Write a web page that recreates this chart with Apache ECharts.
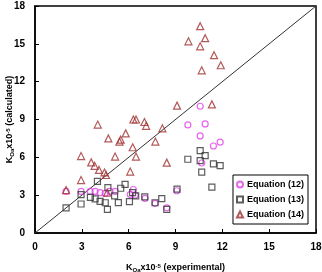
<!DOCTYPE html>
<html>
<head>
<meta charset="utf-8">
<script src="https://cdn.jsdelivr.net/npm/echarts@6/dist/echarts.min.js"></script>
<style>
    html, body { margin: 0; padding: 0; background: #fff; }
    #ChartDIV { width: 322px; height: 272px; }
</style>
</head>
<body>
<div id="ChartDIV"></div>
<script>
// Equation (12) - circles
var eq12 = [
    [1.99, 3.3], [2.95, 3.3], [3.53, 3.3], [3.85, 3.3], [4.17, 3.2], [4.5, 3.15],
    [4.8, 3.3], [5.13, 3.3], [6.3, 3.45], [6.1, 3.05], [6.41, 3.0], [7.05, 2.75],
    [7.69, 2.35], [8.44, 2.0], [9.08, 3.35], [10.68, 5.55], [9.79, 8.57], [10.9, 8.65],
    [10.58, 10.05], [10.58, 7.7], [11.43, 6.9], [11.86, 7.2]
];
// Equation (13) - squares
var eq13 = [
    [1.99, 2.0], [2.95, 3.05], [2.95, 2.3], [4.0, 4.1], [3.55, 2.83], [3.85, 2.7],
    [4.17, 2.5], [4.5, 2.4], [4.64, 1.87], [4.67, 3.6], [5.1, 2.94], [5.34, 2.41],
    [5.49, 3.55], [5.77, 3.85], [6.05, 2.49], [6.25, 3.2], [6.45, 2.94], [7.03, 2.87],
    [7.69, 2.4], [8.12, 2.72], [8.44, 1.88], [9.1, 3.48], [9.79, 5.85], [10.58, 6.53],
    [10.9, 6.13], [10.58, 5.74], [11.43, 5.48], [11.86, 5.34], [10.68, 4.82], [11.33, 3.63]
];
// Equation (14) - triangles
var eq14 = [
    [1.99, 3.4], [2.95, 4.2], [2.95, 6.1], [3.6, 5.6], [3.82, 5.33], [4.1, 5.0],
    [4.45, 4.8], [4.55, 4.6], [4.62, 3.2], [4.02, 8.6], [4.7, 7.5], [5.13, 6.06],
    [5.41, 7.25], [5.49, 7.4], [5.81, 7.9], [6.3, 9.0], [6.47, 9.0], [6.26, 6.8],
    [6.47, 6.06], [6.1, 4.87], [7.01, 8.8], [7.12, 8.5], [7.71, 7.25], [8.16, 8.3],
    [8.44, 5.58], [9.1, 10.1], [9.83, 15.2], [10.58, 16.4], [10.9, 15.45], [10.58, 14.8],
    [11.47, 14.1], [11.9, 13.3], [10.68, 12.9], [11.33, 10.2]
];
var parityLine = [[0, 0], [18, 18]];
var legendNames = ['Equation (12)', 'Equation (13)', 'Equation (14)'];
var axisMin = 0, axisMax = 18, axisStep = 3;

var myChart = echarts.init(document.getElementById('ChartDIV'));

var labelFont = { color: '#000', fontWeight: 'bold', fontSize: 10, fontFamily: 'Liberation Sans, Arial' };
var nameRich = {
    b: { fontWeight: 'bold', fontSize: 9, fontFamily: 'Liberation Sans, Arial', color: '#000' },
    sub: { fontWeight: 'bold', fontSize: 6, fontFamily: 'Liberation Sans, Arial', color: '#000', verticalAlign: 'bottom', padding: [4, 0, 0, 0] },
    sup: { fontWeight: 'bold', fontSize: 6, fontFamily: 'Liberation Sans, Arial', color: '#000', verticalAlign: 'top', padding: [0, 0, 4, 0] }
};

var option = {
    animation: false,
    grid: {
        left: 35, top: 6, right: 6, bottom: 39,
        containLabel: false,
        outerBoundsMode: 'none',
        show: true, borderColor: '#000', borderWidth: 1.5, backgroundColor: '#fff'
    },
    legend: {
        data: legendNames,
        orient: 'vertical',
        right: 14,
        bottom: 48,
        backgroundColor: '#fff',
        borderColor: '#000',
        borderWidth: 1,
        padding: [5, 4, 5, 3],
        itemGap: 6,
        itemWidth: 6,
        itemHeight: 6,
        textStyle: { color: '#000', fontWeight: 'bold', fontSize: 9, fontFamily: 'Liberation Sans, Arial', padding: [0, 0, 0, -1] }
    },
    xAxis: {
        type: 'value',
        min: axisMin, max: axisMax, interval: axisStep,
        axisLine: { show: true, lineStyle: { color: '#000', width: 1.5 } },
        axisTick: { show: true, inside: true, length: 4, lineStyle: { color: '#000' } },
        splitLine: { show: false },
        axisLabel: Object.assign({ margin: 9 }, labelFont),
        name: '{b|K}{sub|Oa}{b|x10}{sup|-5}{b| (experimental)}',
        nameLocation: 'middle',
        nameGap: 30,
        nameMoveOverlap: false,
        nameTextStyle: { rich: nameRich }
    },
    yAxis: {
        type: 'value',
        min: axisMin, max: axisMax, interval: axisStep,
        axisLine: { show: true, lineStyle: { color: '#000', width: 1.5 } },
        axisTick: { show: true, inside: true, length: 4, lineStyle: { color: '#000' } },
        splitLine: { show: false },
        axisLabel: Object.assign({ margin: 10 }, labelFont),
        name: '{b|K}{sub|Oa}{b|x10}{sup|-5}{b| (calculated)}',
        nameLocation: 'middle',
        nameGap: 20,
        nameMoveOverlap: false,
        nameTextStyle: { rich: nameRich }
    },
    series: [
        {
            name: 'parity',
            type: 'line',
            data: parityLine,
            symbol: 'none',
            silent: true,
            lineStyle: { color: '#333', width: 1 },
            z: 1
        },
        {
            name: legendNames[0],
            type: 'scatter',
            data: eq12,
            symbol: 'circle',
            symbolSize: 6,
            itemStyle: { color: 'rgba(0,0,0,0)', borderColor: '#e040e8', borderWidth: 1.2 },
            z: 3
        },
        {
            name: legendNames[1],
            type: 'scatter',
            data: eq13,
            symbol: 'rect',
            symbolSize: 6,
            itemStyle: { color: 'rgba(0,0,0,0)', borderColor: '#333', borderWidth: 1.2 },
            z: 4
        },
        {
            name: legendNames[2],
            type: 'scatter',
            data: eq14,
            symbol: 'triangle',
            symbolSize: 7,
            itemStyle: { color: 'rgba(0,0,0,0)', borderColor: '#a03030', borderWidth: 1.2 },
            z: 5
        }
    ]
};

myChart.setOption(option);

window.addEventListener('resize', function () {
    myChart.resize();
});
</script>
</body>
</html>
